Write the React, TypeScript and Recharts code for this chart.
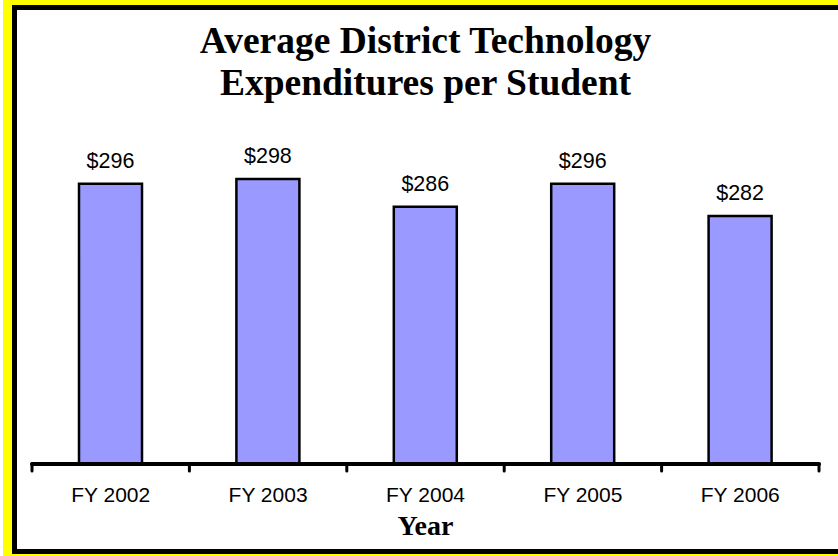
import React from 'react';
import { BarChart, Bar, XAxis, YAxis, LabelList } from 'recharts';

const years = ['FY 2002', 'FY 2003', 'FY 2004', 'FY 2005', 'FY 2006'];
const spending = [296, 298, 286, 296, 282];
const titleLines = ['Average District Technology', 'Expenditures per Student'];
const xTitle = 'Year';

const data = years.map((year, i) => ({ year, value: spending[i] }));

const W = 838;
const H = 556;
const TICK_MARGIN = 23;
const TICK_LEN = 7;

const CategoryTick = (props: any) => {
  const { x, y, payload, index, visibleTicksCount } = props;
  const half = payload && payload.offset ? payload.offset : 0;
  const axisY = y - TICK_MARGIN;
  const tickStyle = { stroke: '#000', strokeWidth: 3, strokeLinecap: 'round' as const };
  return (
    <g>
      <line x1={x - half} y1={axisY} x2={x - half} y2={axisY + TICK_LEN} {...tickStyle} />
      {index === visibleTicksCount - 1 && (
        <line x1={x + half} y1={axisY} x2={x + half} y2={axisY + TICK_LEN} {...tickStyle} />
      )}
      <text
        x={x}
        y={y}
        dy="0.71em"
        textAnchor="middle"
        fill="#000"
        fontSize={21}
        fontFamily='"Liberation Sans", Arial, sans-serif'
      >
        {payload.value}
      </text>
    </g>
  );
};

export default function App() {
  return (
    <div style={{ position: 'absolute', left: 0, top: 0, width: W, height: H, overflow: 'hidden', background: '#fff' }}>
      <div style={{ position: 'absolute', left: 3, top: 0, width: W, height: H, background: '#ffff00' }} />
      <div style={{ position: 'absolute', left: 12, top: 5, width: W, height: 549, background: '#000' }} />
      <div style={{ position: 'absolute', left: 17, top: 10, width: W, height: 539, background: '#fff' }} />
      <div
        style={{
          position: 'absolute',
          left: 32,
          top: 20,
          width: 787,
          textAlign: 'center',
          fontFamily: '"Liberation Serif", "Times New Roman", serif',
          fontWeight: 'bold',
          fontSize: 37.5,
          lineHeight: '42px',
          color: '#000',
        }}
      >
        {titleLines.map((t) => (
          <div key={t}>{t}</div>
        ))}
      </div>
      <div style={{ position: 'absolute', left: 0, top: 0 }}>
        <BarChart
          width={W}
          height={H}
          data={data}
          margin={{ top: 174.4, right: 19, bottom: 31, left: 32 }}
        >
          <YAxis hide type="number" domain={[175, 300]} allowDataOverflow />
          <XAxis
            dataKey="year"
            type="category"
            height={61}
            axisLine={{ stroke: '#000', strokeWidth: 4, strokeLinecap: 'round' }}
            tickLine={false}
            tickSize={0}
            tickMargin={TICK_MARGIN}
            interval={0}
            tick={<CategoryTick />}
          />
          <Bar
            dataKey="value"
            fill="#9999ff"
            stroke="#000"
            strokeWidth={2.5}
            barSize={63}
            isAnimationActive={false}
          >
            <LabelList
              dataKey="value"
              position="top"
              offset={16}
              formatter={(v: any) => `$${v}`}
              style={{ fill: '#000', fontSize: 21.5, fontFamily: '"Liberation Sans", Arial, sans-serif' }}
            />
          </Bar>
        </BarChart>
      </div>
      <div
        style={{
          position: 'absolute',
          left: 32,
          top: 509.6,
          width: 787,
          textAlign: 'center',
          fontFamily: '"Liberation Serif", "Times New Roman", serif',
          fontWeight: 'bold',
          fontSize: 28,
          lineHeight: '32px',
          color: '#000',
        }}
      >
        {xTitle}
      </div>
    </div>
  );
}
